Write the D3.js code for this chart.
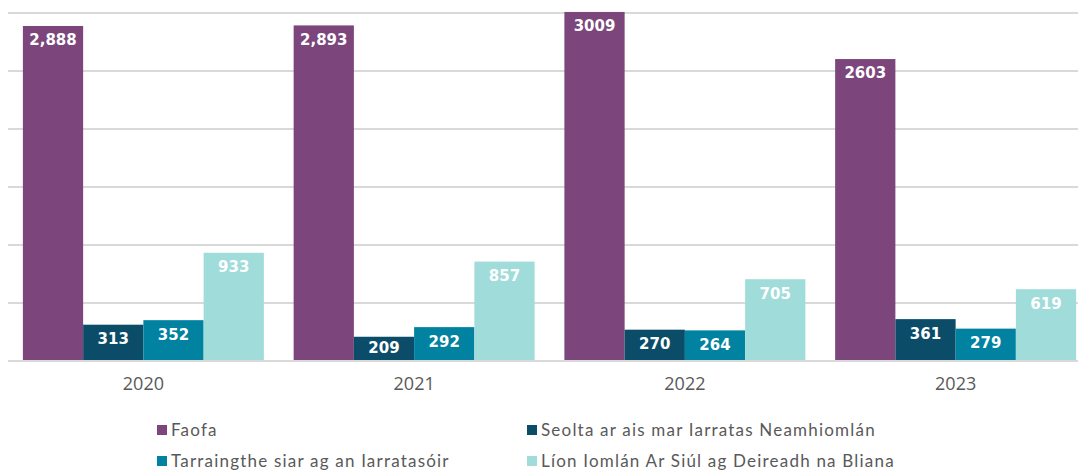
<!DOCTYPE html>
<html lang="ga">
<head>
    <meta charset="UTF-8">
    <title>Iarratais 2020-2023</title>
    <script src="https://d3js.org/d3.v7.min.js"></script>
    <style>
        body { margin: 0; background: #fff; }
        svg { display: block; }
    </style>
</head>
<body>
    <div id="chart"></div>
    <script>
        // data
        const years = ["2020", "2021", "2022", "2023"];
        const seriesNames = [
            "Faofa",
            "Seolta ar ais mar Iarratas Neamhiomlán",
            "Tarraingthe siar ag an Iarratasóir",
            "Líon Iomlán Ar Siúl ag Deireadh na Bliana"
        ];
        const faofa = [2888, 2893, 3009, 2603];
        const seolta = [313, 209, 270, 361];
        const tarraingthe = [352, 292, 264, 279];
        const lion = [933, 857, 705, 619];
        // how each value label is printed (some with thousands separator, some not)
        const faofaLabels = ["2,888", "2,893", "3009", "2603"];
        const yTicks = [0, 500, 1000, 1500, 2000, 2500, 3000];

        const colors = ["#7c467c", "#0b4d69", "#0182a0", "#a0dcda"];
        const allSeries = [faofa, seolta, tarraingthe, lion];

        const width = 1078, height = 470;
        const margin = { top: 13, left: 8, bottom: 109 };
        const baseline = height - margin.bottom; // 361

        const svg = d3.select("#chart").append("svg")
            .attr("width", width)
            .attr("height", height);

        const x0 = d3.scaleBand()
            .domain(years)
            .range([margin.left, 1091])
            .paddingInner(0.11)
            .paddingOuter(0.055);

        const x1 = d3.scaleBand()
            .domain(d3.range(seriesNames.length))
            .range([0, x0.bandwidth()]);

        const y = d3.scaleLinear()
            .domain([0, 3000])
            .range([baseline, margin.top]);

        // gridlines
        svg.append("g")
            .selectAll("line")
            .data(yTicks)
            .join("line")
            .attr("x1", margin.left)
            .attr("x2", width)
            .attr("y1", d => y(d))
            .attr("y2", d => y(d))
            .attr("stroke", "#d9d9d9")
            .attr("stroke-width", 2);

        // bars
        const rows = years.map((yr, i) => allSeries.map((s, k) => ({ yr, k, v: s[i], label: k === 0 ? faofaLabels[i] : String(s[i]) })));

        const groups = svg.append("g")
            .selectAll("g")
            .data(rows)
            .join("g")
            .attr("transform", (d, i) => `translate(${x0(years[i])},0)`);

        groups.selectAll("rect")
            .data(d => d)
            .join("rect")
            .attr("x", d => x1(d.k))
            .attr("width", x1.bandwidth())
            .attr("y", d => y(d.v))
            .attr("height", d => baseline - y(d.v))
            .attr("fill", d => colors[d.k]);

        groups.selectAll("text")
            .data(d => d)
            .join("text")
            .attr("x", d => x1(d.k) + x1.bandwidth() / 2)
            .attr("y", d => Math.min(y(d.v) + 14, baseline - 13))
            .attr("dy", "0.36em")
            .attr("text-anchor", "middle")
            .attr("fill", "#fff")
            .style("font-family", "'DejaVu Sans', Verdana, sans-serif")
            .style("font-weight", "bold")
            .style("font-size", "15px")
            .text(d => d.label);

        // x axis
        const xAxis = svg.append("g")
            .attr("transform", `translate(0,${baseline})`)
            .call(d3.axisBottom(x0).tickSize(0).tickPadding(16));
        xAxis.select(".domain").remove();
        xAxis.append("line")
            .attr("x1", margin.left).attr("x2", width)
            .attr("stroke", "#d9d9d9").attr("stroke-width", 2);
        xAxis.selectAll("text")
            .attr("fill", "#595959")
            .style("font-family", "'Open Sans', sans-serif")
            .style("font-size", "18px");

        // legend
        const legendPos = [[157, 430], [527, 430], [157, 461], [527, 461]];
        const legend = svg.append("g")
            .selectAll("g")
            .data(seriesNames)
            .join("g")
            .attr("transform", (d, i) => `translate(${legendPos[i][0]},${legendPos[i][1]})`);
        legend.append("rect")
            .attr("x", 0).attr("y", -5)
            .attr("width", 10).attr("height", 10)
            .attr("fill", (d, i) => colors[i]);
        legend.append("text")
            .attr("x", 14)
            .attr("dy", "0.36em")
            .attr("fill", "#595959")
            .style("font-family", "Lato, sans-serif")
            .style("font-size", "17px")
            .style("letter-spacing", "1.2px")
            .text(d => d);
    </script>
</body>
</html>
